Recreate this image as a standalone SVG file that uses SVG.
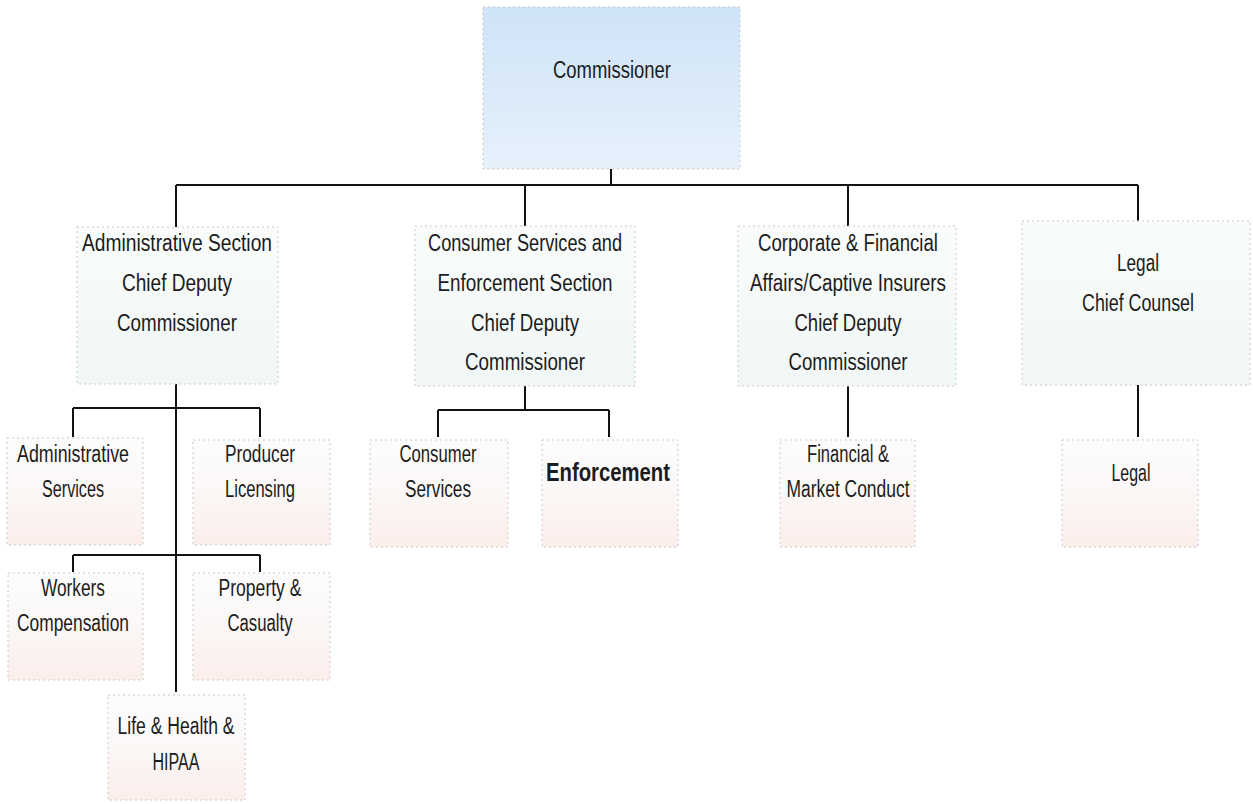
<svg xmlns="http://www.w3.org/2000/svg" width="1253" height="804" viewBox="0 0 1253 804">
<defs>
<linearGradient id="gBlue" x1="0" y1="0" x2="0" y2="1"><stop offset="0" stop-color="#cfe3f8"/><stop offset="1" stop-color="#e6f1fb"/></linearGradient>
<linearGradient id="gMint" x1="0" y1="0" x2="0" y2="1"><stop offset="0" stop-color="#f9fcfb"/><stop offset="1" stop-color="#f0f7f6"/></linearGradient>
<linearGradient id="gPink" x1="0" y1="0" x2="0" y2="1"><stop offset="0" stop-color="#fdfcfc"/><stop offset="0.45" stop-color="#fbf8f7"/><stop offset="1" stop-color="#fbeeeb"/></linearGradient>
</defs>
<style>
.box{stroke:#c8c8c8;stroke-width:1;stroke-dasharray:2 3}
.blue{fill:url(#gBlue)}
.mint{fill:url(#gMint)}
.pink{fill:url(#gPink)}
text{font-family:"Liberation Sans",Arial,sans-serif;font-size:23px;fill:#1c1c1c;text-anchor:middle}
.bold{font-weight:bold;font-size:25px}
.ln{stroke:#111;stroke-width:2;fill:none}
</style>
<rect width="1253" height="804" fill="#ffffff"/>
<g id="connectors">
<path class="ln" d="M611 168V185M176 185H1138M176 185V227M525 185V227M848 185V227M1138 185V222"/>
<path class="ln" d="M176 383V692M73 408H260M73 408V437M260 408V437M73 555H260M73 555V572M260 555V572"/>
<path class="ln" d="M525 385V410M438 410H609M438 410V437M609 410V437"/>
<path class="ln" d="M848 386V437"/>
<path class="ln" d="M1138 385V437"/>
</g>
<g id="commissioner"><rect class="box blue" x="483" y="7" width="257" height="162"/><text x="612" y="78" textLength="118" lengthAdjust="spacingAndGlyphs">Commissioner</text></g>
<g id="admin-section"><rect class="box mint" x="77" y="227" width="201" height="157"/><text x="177" y="251" textLength="190" lengthAdjust="spacingAndGlyphs">Administrative Section</text><text x="177" y="291" textLength="110" lengthAdjust="spacingAndGlyphs">Chief Deputy</text><text x="177" y="331" textLength="120" lengthAdjust="spacingAndGlyphs">Commissioner</text></g>
<g id="consumer-section"><rect class="box mint" x="415" y="226" width="220" height="160"/><text x="525" y="251" textLength="194" lengthAdjust="spacingAndGlyphs">Consumer Services and</text><text x="525" y="291" textLength="175" lengthAdjust="spacingAndGlyphs">Enforcement Section</text><text x="525" y="331" textLength="108" lengthAdjust="spacingAndGlyphs">Chief Deputy</text><text x="525" y="370" textLength="120" lengthAdjust="spacingAndGlyphs">Commissioner</text></g>
<g id="corporate-section"><rect class="box mint" x="738" y="226" width="218" height="160"/><text x="848" y="251" textLength="180" lengthAdjust="spacingAndGlyphs">Corporate &amp; Financial</text><text x="848" y="291" textLength="196" lengthAdjust="spacingAndGlyphs">Affairs/Captive Insurers</text><text x="848" y="331" textLength="107" lengthAdjust="spacingAndGlyphs">Chief Deputy</text><text x="848" y="370" textLength="119" lengthAdjust="spacingAndGlyphs">Commissioner</text></g>
<g id="legal-section"><rect class="box mint" x="1022" y="221" width="228" height="164"/><text x="1138" y="271" textLength="42" lengthAdjust="spacingAndGlyphs">Legal</text><text x="1138" y="311" textLength="112" lengthAdjust="spacingAndGlyphs">Chief Counsel</text></g>
<g id="admin-services"><rect class="box pink" x="7" y="438" width="136" height="107"/><text x="73" y="462" textLength="112" lengthAdjust="spacingAndGlyphs">Administrative</text><text x="73" y="497" textLength="62" lengthAdjust="spacingAndGlyphs">Services</text></g>
<g id="producer-licensing"><rect class="box pink" x="193" y="440" width="137" height="105"/><text x="260" y="462" textLength="70" lengthAdjust="spacingAndGlyphs">Producer</text><text x="260" y="497" textLength="70" lengthAdjust="spacingAndGlyphs">Licensing</text></g>
<g id="workers-comp"><rect class="box pink" x="8" y="573" width="135" height="107"/><text x="73" y="596" textLength="64" lengthAdjust="spacingAndGlyphs">Workers</text><text x="73" y="631" textLength="112" lengthAdjust="spacingAndGlyphs">Compensation</text></g>
<g id="property-casualty"><rect class="box pink" x="193" y="573" width="137" height="107"/><text x="260" y="596" textLength="83" lengthAdjust="spacingAndGlyphs">Property &amp;</text><text x="260" y="631" textLength="65" lengthAdjust="spacingAndGlyphs">Casualty</text></g>
<g id="life-health"><rect class="box pink" x="108" y="695" width="137" height="105"/><text x="176" y="734" textLength="117" lengthAdjust="spacingAndGlyphs">Life &amp; Health &amp;</text><text x="176" y="770" textLength="47" lengthAdjust="spacingAndGlyphs">HIPAA</text></g>
<g id="consumer-services"><rect class="box pink" x="370" y="440" width="138" height="107"/><text x="438" y="462" textLength="77" lengthAdjust="spacingAndGlyphs">Consumer</text><text x="438" y="497" textLength="66" lengthAdjust="spacingAndGlyphs">Services</text></g>
<g id="enforcement"><rect class="box pink" x="542" y="440" width="136" height="107"/><text class="bold" x="608" y="481" textLength="124" lengthAdjust="spacingAndGlyphs">Enforcement</text></g>
<g id="financial-market"><rect class="box pink" x="780" y="440" width="135" height="107"/><text x="848" y="462" textLength="82" lengthAdjust="spacingAndGlyphs">Financial &amp;</text><text x="848" y="497" textLength="123" lengthAdjust="spacingAndGlyphs">Market Conduct</text></g>
<g id="legal"><rect class="box pink" x="1062" y="440" width="136" height="107"/><text x="1131" y="481" textLength="39" lengthAdjust="spacingAndGlyphs">Legal</text></g>
</svg>
